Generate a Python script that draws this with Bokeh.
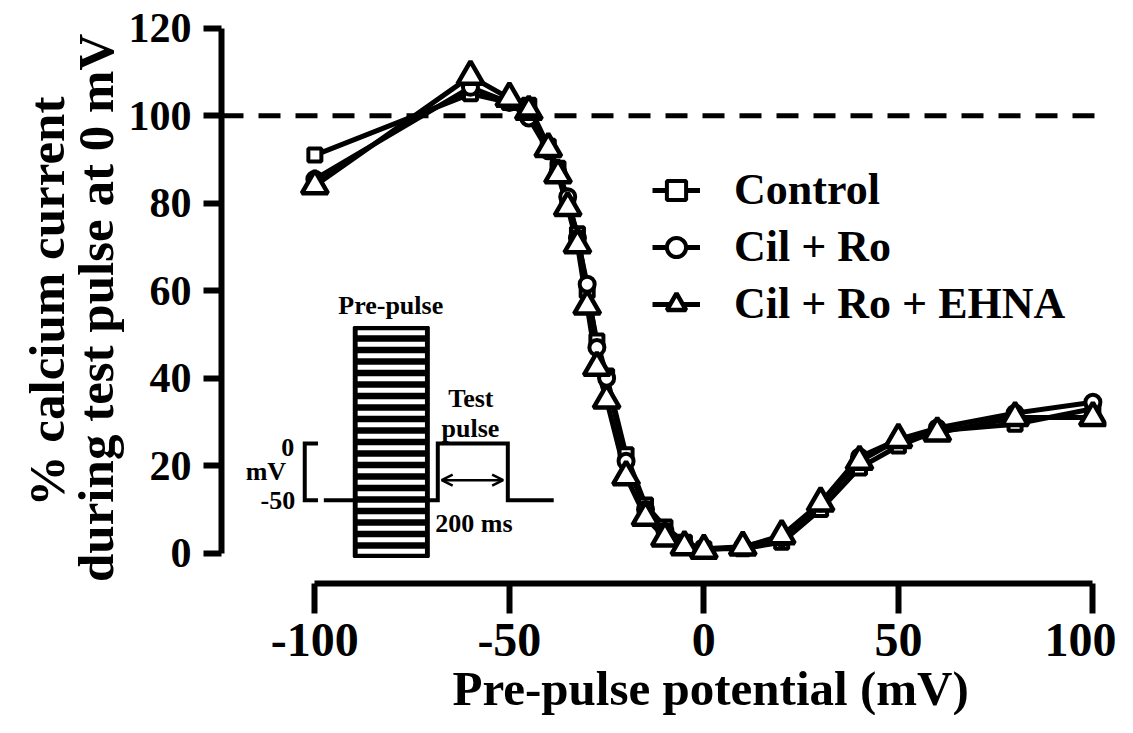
from bokeh.plotting import figure
from bokeh.models import Range1d, FixedTicker, Span, Legend, LegendItem, Arrow, OpenHead, Title
from bokeh.core.properties import value
from bokeh.embed import file_html
from bokeh.resources import INLINE

# ---------------- data ----------------
prepulse_mv = [-100, -60, -50, -45, -40, -37.5, -35, -32.5, -30, -27.5, -25, -20,
               -15, -10, -5, 0, 10, 20, 30, 40, 50, 60, 80, 100]
control = [91, 105, 103, 102.4, 93, 88, 80.5, 73, 60, 48.5, 40.5, 22.5,
           11, 6, 2.5, 1, 1, 2.5, 10, 19.5, 24.5, 28, 29.5, 33]
cil_ro = [85.5, 106.5, 103, 99.5, 92, 87, 81.5, 72, 61.5, 47, 40, 21,
          10, 5, 2, 1, 1.5, 3.5, 11.5, 22, 26, 28.6, 32, 34.5]
cil_ro_ehna = [84, 109, 104, 101, 92.5, 86.5, 79, 70.5, 56.5, 42.5, 35, 17.5,
               8.2, 3.5, 1.5, 0.7, 1.4, 4, 11.5, 21, 26, 27.5, 31, 31]
series_names = ["Control", "Cil + Ro", "Cil + Ro + EHNA"]
x_ticks = [-100, -50, 0, 50, 100]
x_tick_labels = ["-100", "-50", "0", "50", "100"]
y_ticks = [0, 20, 40, 60, 80, 100, 120]
y_tick_labels = ["0", "20", "40", "60", "80", "100", "120"]
reference_level = 100
x_title = "Pre-pulse potential (mV)"
y_title = "% calcium current\nduring test pulse  at 0 mV"

FONT = "'Liberation Serif', 'Times New Roman', Times, serif"

p = figure(output_backend="svg", toolbar_location=None,
           frame_width=885, frame_height=564,
           min_border_left=221, min_border_top=19, min_border_right=10, min_border_bottom=6,
           x_range=Range1d(-124, 103.5), y_range=Range1d(-6.93, 122))
p.background_fill_color = "white"
p.border_fill_color = "white"
p.outline_line_color = None
p.grid.visible = False

# axes
for ax in (p.xaxis[0], p.yaxis[0]):
    ax.axis_line_width = 6
    ax.major_tick_line_width = 6
    ax.major_tick_in = 0
    ax.minor_tick_line_color = None
    ax.major_label_text_font = FONT
    ax.major_label_text_font_style = "bold"
    ax.major_label_text_color = "black"
    ax.axis_label_text_font = FONT
    ax.axis_label_text_font_style = "bold"
    ax.axis_label_text_color = "black"

p.xaxis.ticker = FixedTicker(ticks=x_ticks)
p.xaxis.major_label_overrides = dict(zip(x_ticks, x_tick_labels))
p.xaxis.bounds = (x_ticks[0], x_ticks[-1])
p.xaxis.major_tick_out = 30
p.xaxis.major_label_standoff = 10
p.xaxis.major_label_text_font_size = "48px"

# x title centred under the bounded axis (not the whole frame)
p.add_layout(Title(text=x_title, align="left", offset=231, standoff=0,
                   text_font=FONT, text_font_style="bold", text_font_size="49px",
                   text_color="black"), "below")

p.yaxis.ticker = FixedTicker(ticks=y_ticks)
p.yaxis.major_label_overrides = dict(zip(y_ticks, y_tick_labels))
p.yaxis.bounds = (y_ticks[0], y_ticks[-1])
p.yaxis.major_tick_out = 18
p.yaxis.major_label_standoff = 12
p.yaxis.major_label_text_font_size = "42px"
p.yaxis.axis_label = y_title
p.yaxis.axis_label_text_font_size = "51px"
p.yaxis.axis_label_text_line_height = 0.86
p.yaxis.axis_label_standoff = 2

# reference dashed line
p.add_layout(Span(location=reference_level, dimension="width", line_color="black",
                  line_width=5, line_dash="22 15"))

# ---------------- inset schematic (data-space geometry) ----------------
rect_l, rect_r, rect_b, rect_t = -90.0, -70.7, -0.9, 51.7
p.quad(left=[rect_l], right=[rect_r], bottom=[rect_b], top=[rect_t],
       fill_color="black", line_color="black", line_width=2)
n_stripes = 20
stripe_h = (rect_t - rect_b) / n_stripes
stripe_y = [rect_b + (i + 0.5) * stripe_h for i in range(n_stripes)]
p.segment(x0=[rect_l + 1.0] * n_stripes, x1=[rect_r - 1.0] * n_stripes,
          y0=stripe_y, y1=stripe_y, line_color="white", line_width=5)

lvl_hold, lvl_test = 12.1, 25.1
p.line(x=[-97.7, rect_l], y=[lvl_hold, lvl_hold], line_color="black", line_width=4)
p.line(x=[rect_r, -68.4, -68.4, -50.4, -50.4, -38.6],
       y=[lvl_hold, lvl_hold, lvl_test, lvl_test, lvl_hold, lvl_hold],
       line_color="black", line_width=4, line_join="miter")
# bracket
p.line(x=[-99.2, -102.6, -102.6, -99.2], y=[lvl_test, lvl_test, lvl_hold, lvl_hold],
       line_color="black", line_width=4, line_join="miter")
# arrow
p.add_layout(Arrow(x_start=-67.4, x_end=-51.6, y_start=16.7, y_end=16.7,
                   line_width=2.5, line_color="black",
                   start=OpenHead(size=11, line_width=2.5, line_color="black"),
                   end=OpenHead(size=11, line_width=2.5, line_color="black")))

inset_txt = dict(
    x=[-80.5, -59.9, -60.0, -59.1, -107.0, -112.6, -109.5],
    y=[56.7, 35.4, 28.6, 6.9, 24.2, 18.6, 12.1],
    t=["Pre-pulse", "Test", "pulse", "200 ms", "0", "mV", "-50"],
)
p.text(x=inset_txt["x"], y=inset_txt["y"], text=inset_txt["t"],
       text_font=value(FONT), text_font_style="bold", text_font_size="26px",
       text_align="center", text_baseline="middle", text_color="black")

# ---------------- series ----------------
lines = []
for ys in (control, cil_ro, cil_ro_ehna):
    lines.append(p.line(prepulse_mv, ys, line_color="black", line_width=5))

m_ctrl = p.scatter(prepulse_mv, control, marker="square", size=13,
                   fill_color="white", line_color="black", line_width=4)
m_cil = p.scatter(prepulse_mv, cil_ro, marker="circle", size=15,
                  fill_color="white", line_color="black", line_width=4)
m_ehna = p.scatter(prepulse_mv, cil_ro_ehna, marker="triangle", size=26,
                   fill_color="white", line_color="black", line_width=4.5)

legend = Legend(items=[
    LegendItem(label=series_names[0], renderers=[lines[0], m_ctrl]),
    LegendItem(label=series_names[1], renderers=[lines[1], m_cil]),
    LegendItem(label=series_names[2], renderers=[lines[2], m_ehna]),
], location=(431, 254))
legend.label_text_font = FONT
legend.label_text_font_style = "bold"
legend.label_text_font_size = "44px"
legend.label_text_color = "black"
legend.glyph_width = 48
legend.glyph_height = 50
legend.label_standoff = 34
legend.spacing = 6
legend.padding = 0
legend.margin = 0
legend.border_line_color = None
legend.background_fill_alpha = 0
p.add_layout(legend)

open("out.html", "w").write(file_html(p, INLINE))
